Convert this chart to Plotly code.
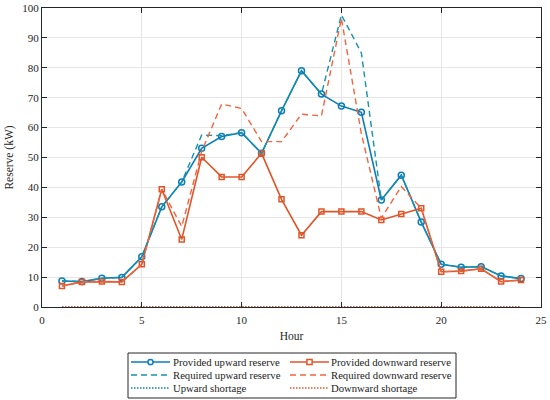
import plotly.graph_objects as go

hours = list(range(1, 25))
provided_up = [8.7, 8.5, 9.6, 9.9, 16.8, 33.5, 41.8, 53.1, 57.0, 58.3, 51.4, 65.6,
               79.0, 71.2, 67.2, 65.1, 35.8, 44.1, 28.4, 14.3, 13.3, 13.5, 10.4, 9.5]
provided_down = [7.0, 8.4, 8.5, 8.4, 14.3, 39.4, 22.6, 50.1, 43.5, 43.5, 51.4, 36.0,
                 24.0, 31.9, 31.9, 31.9, 29.1, 31.1, 33.0, 11.8, 12.0, 12.8, 8.5, 9.0]
required_up = [8.7, 8.5, 9.6, 9.9, 16.8, 33.5, 41.8, 57.5, 57.3, 58.3, 51.4, 65.6,
               79.0, 71.2, 97.7, 85.0, 35.8, 44.1, 28.4, 14.3, 13.3, 13.5, 10.4, 9.5]
required_down = [7.0, 8.4, 8.5, 8.4, 14.3, 39.4, 26.9, 52.0, 67.9, 66.4, 55.3, 55.3,
                  64.5, 63.9, 96.5, 58.0, 29.7, 40.3, 33.0, 11.8, 12.0, 12.8, 8.5, 9.0]
upward_shortage = [0] * 24
downward_shortage = [0] * 24

names = ["Provided upward reserve", "Provided downward reserve",
         "Required upward reserve", "Required downward reserve",
         "Upward shortage", "Downward shortage"]

x_ticks = [0, 5, 10, 15, 20, 25]
y_ticks = [0, 10, 20, 30, 40, 50, 60, 70, 80, 90, 100]

BLUE = "#0b7db8"
BLUE_D = "#1492ab"
RED = "#e05528"
RED_D = "#f26440"
FONT = "Liberation Serif, Times New Roman, serif"

fig = go.Figure()
fig.add_trace(go.Scatter(x=hours, y=provided_up, mode="lines+markers", name=names[0],
                         line=dict(color=BLUE, width=1.6),
                         marker=dict(symbol="circle-open", size=6, color=BLUE, line=dict(width=1.5))))
fig.add_trace(go.Scatter(x=hours, y=provided_down, mode="lines+markers", name=names[1],
                         line=dict(color=RED, width=1.6),
                         marker=dict(symbol="square-open", size=5, color=RED, line=dict(width=1.5))))
fig.add_trace(go.Scatter(x=hours, y=required_up, mode="lines", name=names[2],
                         line=dict(color=BLUE_D, width=1.4, dash="6px,4px")))
fig.add_trace(go.Scatter(x=hours, y=required_down, mode="lines", name=names[3],
                         line=dict(color=RED_D, width=1.4, dash="6px,4px")))
fig.add_trace(go.Scatter(x=hours, y=upward_shortage, mode="lines", name=names[4],
                         line=dict(color=BLUE, width=1.4, dash="1.5px,1.5px")))
fig.add_trace(go.Scatter(x=hours, y=downward_shortage, mode="lines", name=names[5],
                         line=dict(color=RED, width=1.4, dash="1.5px,1.5px")))

W, H = 550, 400
L, R, T, B = 42, 9, 8, 93
PW, PH = W - L - R, H - T - B


def px(x):
    return (x - L) / PW


def py(y):
    return (H - B - y) / PH


shapes = []
annotations = []
# legend box
shapes.append(dict(type="rect", xref="paper", yref="paper",
                   x0=px(128), x1=px(456), y0=py(398), y1=py(353),
                   line=dict(color="#262626", width=1), fillcolor="white", layer="above"))
rows = [362, 375, 388]
cols = [(131, 170, 171), (290, 329, 329)]
styles = [
    (BLUE, "solid", "circle"), (RED, "solid", "square"),
    (BLUE_D, "6px,4px", None), (RED_D, "6px,4px", None),
    (BLUE, "1.5px,1.5px", None), (RED, "1.5px,1.5px", None),
]
for i, nm in enumerate(names):
    r, c = divmod(i, 2)
    x0, x1, xt = cols[c]
    yy = rows[r]
    color, dash, mk = styles[i]
    shapes.append(dict(type="line", xref="paper", yref="paper",
                       x0=px(x0), x1=px(x1), y0=py(yy), y1=py(yy),
                       line=dict(color=color, width=1.6 if dash == "solid" else 1.4, dash=dash),
                       layer="above"))
    if mk:
        xm = (x0 + x1) / 2
        shapes.append(dict(type="circle" if mk == "circle" else "rect",
                           xref="paper", yref="paper", xsizemode="pixel", ysizemode="pixel",
                           xanchor=px(xm), yanchor=py(yy),
                           x0=-2.6, x1=2.6, y0=-2.6, y1=2.6,
                           line=dict(color=color, width=1.5), fillcolor="white", layer="above"))
    annotations.append(dict(text=nm, xref="paper", yref="paper", x=px(xt), y=py(yy),
                            xanchor="left", yanchor="middle", showarrow=False,
                            font=dict(family=FONT, size=10.7, color="#222222")))

axis_common = dict(showline=True, linecolor="#262626", linewidth=1, mirror="ticks",
                   ticks="inside", ticklen=5, tickcolor="#262626", tickwidth=1,
                   showgrid=True, gridcolor="#e6e6e6", gridwidth=1, zeroline=False,
                   automargin=False, ticklabeloverflow="allow",
                   tickfont=dict(family=FONT, size=11, color="#262626"))

fig.update_layout(
    width=W, height=H,
    margin=dict(l=L, r=R, t=T, b=B),
    paper_bgcolor="white", plot_bgcolor="white",
    showlegend=False,
    font=dict(family=FONT, size=11, color="#262626"),
    xaxis=dict(range=[0, 25], tickvals=x_ticks, ticktext=[str(v) for v in x_ticks],
               ticklabelstandoff=3,
               title=dict(text="Hour", font=dict(family=FONT, size=11.5, color="#262626"), standoff=6),
               **axis_common),
    yaxis=dict(range=[0, 100], tickvals=y_ticks, ticktext=[str(v) for v in y_ticks],
               title=dict(text="Reserve (kW)", font=dict(family=FONT, size=11.5, color="#262626"), standoff=6),
               **axis_common),
    shapes=shapes,
    annotations=annotations,
)

fig.write_html("out.html", config={"displayModeBar": False},
               post_script="document.body.style.margin='0px';")
